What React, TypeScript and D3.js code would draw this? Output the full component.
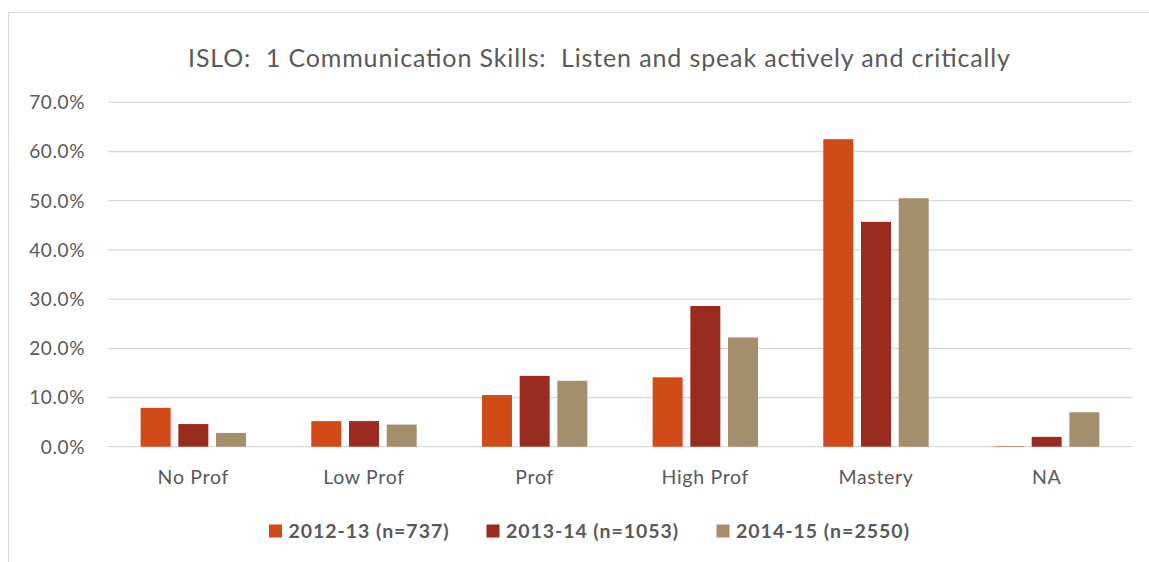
import React from "react";
import * as d3 from "d3";

const categories = ["No Prof", "Low Prof", "Prof", "High Prof", "Mastery", "NA"];
const seriesNames = ["2012-13 (n=737)", "2013-14 (n=1053)", "2014-15 (n=2550)"];
const s2012 = [7.9, 5.2, 10.5, 14.1, 62.5, 0.1];
const s2013 = [4.6, 5.2, 14.4, 28.6, 45.7, 2.0];
const s2014 = [2.8, 4.5, 13.4, 22.2, 50.5, 7.0];
const yTicks = [0, 10, 20, 30, 40, 50, 60, 70];
const colors = ["#D24A17", "#9B2B1F", "#A48E6B"];
const title = "ISLO:  1 Communication Skills:  Listen and speak actively and critically";

const W = 1149;
const H = 562;
const FONT = "Lato, 'Open Sans', sans-serif";
const TEXT = "#595959";

export default function App() {
  const series = [s2012, s2013, s2014];
  const left = 108, right = 1132, top = 102.3, bottom = 446.7;
  const x = d3.scaleBand<string>().domain(categories).range([left, right]).padding(0);
  const y = d3.scaleLinear().domain([0, 70]).range([bottom, top]);
  const barW = 30;
  const step = 37.7;
  const legendX = [269, 486.5, 716.5];
  const legendLen = [160, 172, 173];

  return (
    <svg width={W} height={H} style={{ position: "absolute", left: 0, top: 0, background: "#fff" }}>
      <rect x={8.5} y={12.5} width={W + 10} height={H + 10} fill="#fff" stroke="#d9d9d9" strokeWidth={1} />
      <text
        x={599}
        y={67}
        textAnchor="middle"
        fontFamily={FONT}
        fontSize={25}
        fill={TEXT}
        style={{ whiteSpace: "pre" }}
        textLength={822}
        lengthAdjust="spacing"
      >
        {title}
      </text>
      {yTicks.map((t) => (
        <g key={t}>
          <line x1={left} x2={right} y1={y(t)} y2={y(t)} stroke="#d9d9d9" strokeWidth={1.3} />
          <text x={85} y={y(t)} dy="0.36em" textAnchor="end" fontFamily={FONT} fontSize={19} fill={TEXT} letterSpacing={0.6}>
            {t.toFixed(1) + "%"}
          </text>
        </g>
      ))}
      {categories.map((c, i) => {
        const cx = (x(c) as number) + x.bandwidth() / 2;
        return (
          <g key={c}>
            {series.map((s, j) => {
              const bx = cx + (j - 1) * step - barW / 2;
              return (
                <rect
                  key={j}
                  x={bx}
                  y={y(s[i])}
                  width={barW}
                  height={bottom - y(s[i])}
                  fill={colors[j]}
                />
              );
            })}
            <text x={cx} y={484} textAnchor="middle" fontFamily={FONT} fontSize={19.5} fill={TEXT} letterSpacing={0.7}>
              {c}
            </text>
          </g>
        );
      })}
      {seriesNames.map((n, j) => {
        const lx = legendX[j];
        return (
          <g key={n}>
            <rect x={lx} y={524.5} width={13} height={13} fill={colors[j]} />
            <text
              x={lx + 19.5}
              y={531}
              dy="0.36em"
              fontFamily={FONT}
              fontWeight="bold"
              fontSize={19.5}
              fill={TEXT}
              textLength={legendLen[j]}
              lengthAdjust="spacing"
            >
              {n}
            </text>
          </g>
        );
      })}
    </svg>
  );
}
